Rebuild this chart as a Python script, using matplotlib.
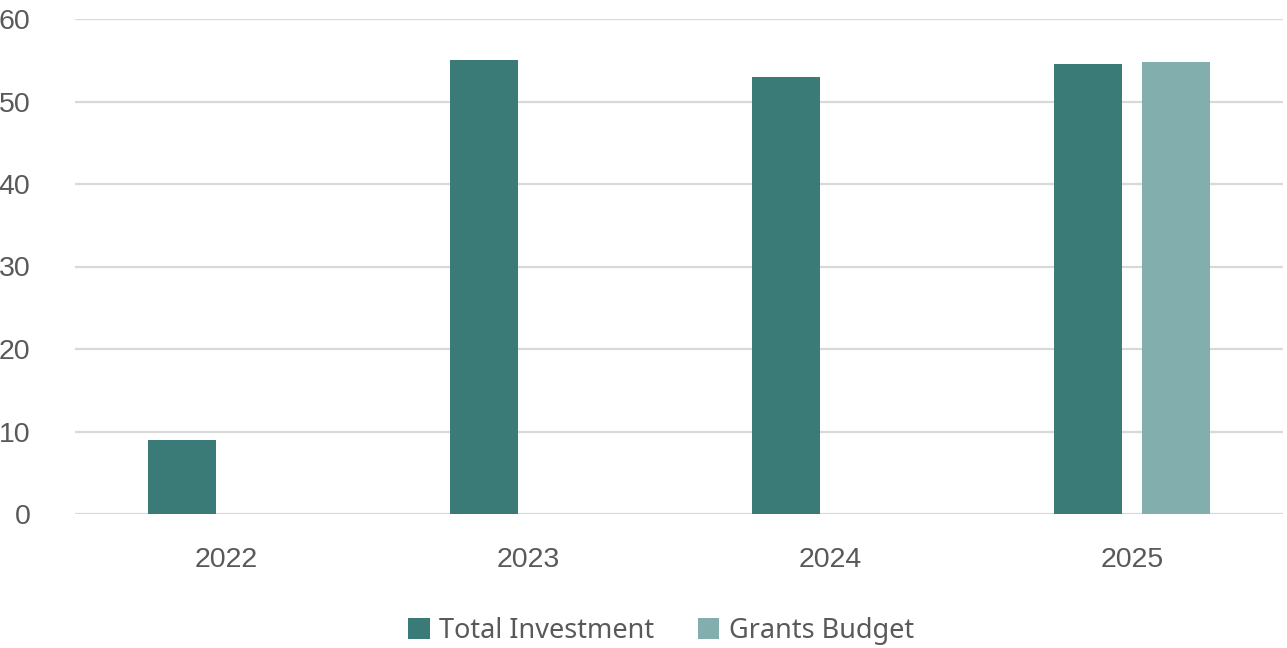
import numpy as np
import matplotlib.pyplot as plt

# Datos del grafico
years = ["2022", "2023", "2024", "2025"]
total_investment = [9, 55, 53, 54.5]
grants_budget = [np.nan, np.nan, np.nan, 54.8]

dark = "#3A7B78"
light = "#82AEAD"
grey = "#595959"

fig = plt.figure(figsize=(12.87, 6.48), dpi=100)
ax = fig.add_axes([75 / 1287, 1 - 514 / 648, 1208 / 1287, 495 / 648])

x = np.arange(len(years))
w = 0.225
off = 0.145
ax.bar(x - off, total_investment, w, color=dark, label="Total Investment", zorder=3)
ax.bar(x + off, grants_budget, w, color=light, label="Grants Budget", zorder=3)

ax.set_xlim(-0.5, 3.5)
ax.set_ylim(0, 60)
ax.set_yticks(range(0, 61, 10))
ax.set_xticks(x)
ax.set_xticklabels(years)
ax.grid(axis="y", color="#D9D9D9", linewidth=1.6, zorder=0)
ax.set_axisbelow(True)
for s in ax.spines.values():
    s.set_visible(False)
ax.tick_params(axis="both", length=0, labelsize=20.5, labelcolor=grey)
ax.tick_params(axis="y", pad=32)
ax.tick_params(axis="x", pad=24)
for t in ax.get_xticklabels() + ax.get_yticklabels():
    t.set_fontfamily("Liberation Sans")

leg = fig.legend(loc="center", bbox_to_anchor=(661 / 1287, 1 - 631 / 648), ncol=2,
                 frameon=False, prop={"family": "Noto Sans", "size": 19.5},
                 handlelength=0.8, handleheight=0.8, handletextpad=0.35, columnspacing=1.6)
for t in leg.get_texts():
    t.set_color(grey)

fig.savefig("out.png", dpi=100)
